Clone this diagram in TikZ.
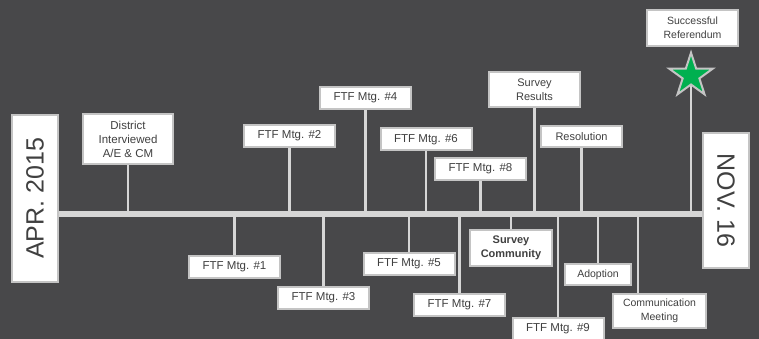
\documentclass[tikz,border=0pt]{standalone}
\usepackage{fontspec}
\setmainfont{Liberation Sans}
\usetikzlibrary{shapes.geometric,backgrounds}
\definecolor{bg}{HTML}{48484A}
\definecolor{linegray}{HTML}{D6D6D6}
\definecolor{edgegray}{HTML}{C4C4C4}
\definecolor{txt}{HTML}{404040}
\definecolor{stargreen}{HTML}{00B050}
\tikzset{
  evbox/.style={draw=edgegray, line width=2pt, fill=white, text=txt, inner sep=0pt,
    align=center, font=\fontsize{11.5}{14}\selectfont},
  smallbox/.style={evbox, font=\fontsize{10.5}{14}\selectfont},
  datebox/.style={draw=edgegray, line width=2pt, fill=white, text=txt, inner sep=0pt,
    font=\fontsize{25}{28}\selectfont},
  starshape/.style={star, star points=5, star point ratio=2.618, minimum size=46pt,
    inner sep=0pt, fill=stargreen, draw=edgegray, line width=2pt},
  conn/.style={draw=linegray, line width=2.6pt},
  axisline/.style={draw=linegray, line width=6pt}
}
\begin{document}
\begin{tikzpicture}[x=1pt,y=-1pt]
\useasboundingbox (0,0) rectangle (759,339);
\coordinate (axisy) at (0,214);
% date boxes
\node[datebox, minimum width=46pt, minimum height=167pt] (apr) at (35,198.5) {\rotatebox{90}{APR. 2015}};
\node[datebox, minimum width=46pt, minimum height=135pt] (nov) at (726,200.5) {\rotatebox{-90}{NOV. 16}};
% upper boxes
\node[evbox, minimum width=90pt, minimum height=50pt] (district) at (128,139) {District\\Interviewed\\A/E \& CM};
\node[evbox, minimum width=91pt, minimum height=22pt] (ftf2) at (289.5,136) {FTF Mtg. \#2};
\node[evbox, minimum width=91pt, minimum height=22pt] (ftf4) at (365.5,98) {FTF Mtg. \#4};
\node[evbox, minimum width=91pt, minimum height=22pt] (ftf6) at (426,139.5) {FTF Mtg. \#6};
\node[evbox, minimum width=91pt, minimum height=22pt] (ftf8) at (480.5,169) {FTF Mtg. \#8};
\node[evbox, font=\fontsize{11}{14}\selectfont, minimum width=91pt, minimum height=35pt] (results) at (534.5,89.5) {Survey\\Results};
\node[evbox, font=\fontsize{11}{14}\selectfont, minimum width=81pt, minimum height=21pt] (resolution) at (581.5,136.5) {Resolution};
\node[smallbox, minimum width=91pt, minimum height=36pt] (referendum) at (692.5,28) {Successful\\Referendum};
\node[starshape] (star) at (691,75.7) {};
% lower boxes
\node[evbox, minimum width=91pt, minimum height=22pt] (ftf1) at (234.5,267) {FTF Mtg. \#1};
\node[evbox, minimum width=91pt, minimum height=22pt] (ftf3) at (323.5,298) {FTF Mtg. \#3};
\node[evbox, minimum width=91pt, minimum height=22pt] (ftf5) at (409,264) {FTF Mtg. \#5};
\node[evbox, minimum width=91pt, minimum height=22pt] (ftf7) at (459.5,304.5) {FTF Mtg. \#7};
\node[evbox, font=\fontsize{11}{14}\bfseries\selectfont, minimum width=82pt, minimum height=36pt] (community) at (511,248) {Survey\\Community};
\node[evbox, minimum width=91pt, minimum height=22pt] (ftf9) at (558,329) {FTF Mtg. \#9};
\node[smallbox, minimum width=66pt, minimum height=21pt] (adoption) at (598,274.5) {Adoption};
\node[smallbox, minimum width=93pt, minimum height=34pt] (comm) at (659.5,311) {Communication\\Meeting};
\coordinate (commtop) at (638,293);
\begin{scope}[on background layer]
\fill[bg] (0,0) rectangle (759,339);
% connectors (upper)
\foreach \n in {district,ftf2,ftf4,ftf6,ftf8,results,resolution}
  \draw[conn] (\n.south) -- (\n.south |- axisy);
\draw[conn] (star.center) -- (star.center |- axisy);
% connectors (lower)
\foreach \n in {ftf1,ftf3,ftf5,ftf7,community,ftf9,adoption}
  \draw[conn] (\n.north) -- (\n.north |- axisy);
\draw[conn] (commtop) -- (commtop |- axisy);
% axis
\draw[axisline] (apr.east |- axisy) -- (nov.west |- axisy);
\end{scope}
\end{tikzpicture}
\end{document}
